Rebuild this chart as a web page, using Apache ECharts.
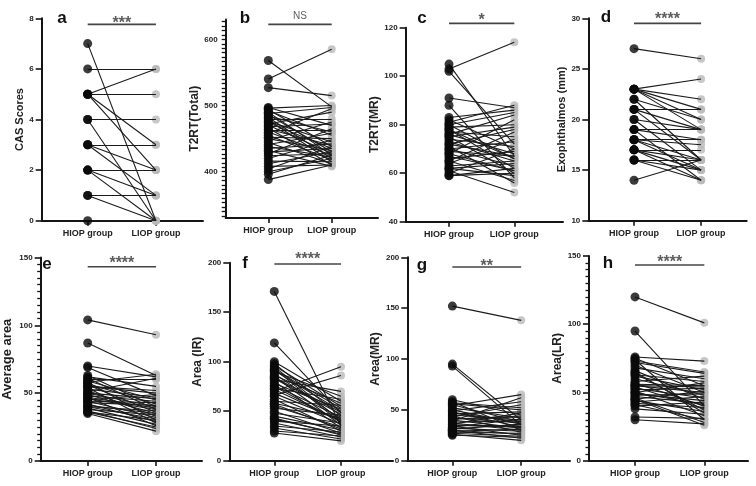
<!DOCTYPE html>
<html><head><meta charset="utf-8">
<script src="https://cdn.jsdelivr.net/npm/echarts@6/dist/echarts.min.js"></script>
<style>html,body{margin:0;padding:0;background:#fff}#c{width:756px;height:486px}</style>
</head><body><div id="c"></div>
<script>
// ---------- DATA ----------
const groups = ['HIOP group', 'LIOP group'];

const aH = [7,6,5,5,5,5,4,4,3,3,3,2,2,2,1,1,0];
const aL = [0,6,6,5,3,2,4,0,3,2,1,2,1,0,1,0,0];

const bH = [568,540,527,497,496,494,492,490,488,486,484,482,480,478,476,474,472,470,468,466,464,462,460,458,455,452,450,447,444,441,438,435,432,430,427,424,420,416,412,408,404,400,396,388];
const bL = [498,585,515,470,500,438,455,425,497,430,460,420,480,415,445,435,490,428,472,410,440,462,425,495,418,450,432,475,412,458,422,442,408,435,465,427,448,415,430,410,438,420,425,410];

const cH = [105,103,102,91,88,83,82,81,80,79,78,77,76,76,75,74,73,72,71,70,70,69,68,67,66,65,64,63,62,61,60,59,59,80,78,75,72,68,65,62];
const cL = [67,114,72,87,58,86,70,88,66,80,62,75,68,84,60,71,65,78,56,73,63,67,82,61,69,57,74,65,64,52,70,62,60,85,66,79,67,61,77,59];

const dH = [27,23,23,23,23,23,22,22,21,21,21,20,20,19,19,19,18,18,18,18,17,17,17,17,16,16,16,14];
const dL = [26,24,22,21,20,19,20,16,21,19,16,19,15,19,18,14,18,17.5,16,15,17,16,15,14,16,15,14,16];

const eH = [104,87,70,69,63,62,61,60,59,58,57,56,55,54,53,52,51,50,49,48,47,46,45,44,43,42,41,40,39,38,37,36,35,58,55,50,47,44,40,36];
const eL = [93,63,62,48,40,55,38,60,45,30,42,36,50,28,47,33,61,40,35,44,26,38,49,32,41,29,35,37,27,34,24,30,22,64,52,46,39,43,31,25];

const fH = [171,119,100,98,96,95,93,91,90,88,86,85,83,82,80,78,76,75,73,70,68,66,65,62,60,58,55,53,50,48,45,43,40,38,35,33,30,28,92,84,72,57,42];
const fL = [35,48,60,45,55,40,38,50,65,42,58,36,47,70,33,52,44,39,62,95,41,86,37,30,56,43,34,46,28,38,31,26,35,24,29,22,25,20,53,49,40,32,27];

const gH = [152,95,93,60,58,57,55,54,52,50,49,48,46,45,44,43,42,41,40,39,38,37,36,35,34,33,32,31,30,29,28,27,26,25,56,47,41,35,30];
const gL = [138,40,35,45,30,52,38,65,42,36,58,33,48,40,28,55,37,44,32,62,39,30,47,34,25,41,29,36,22,31,27,24,20,23,50,38,43,33,26];

const hH = [120,95,76,75,74,73,70,68,66,65,63,62,60,58,57,56,55,54,53,52,51,50,49,48,47,46,45,44,43,42,41,40,38,32,30,72,64,55,50,45];
const hL = [101,40,73,55,30,65,50,60,45,35,58,52,48,62,40,55,50,38,46,53,33,57,44,49,42,28,51,36,47,39,30,43,34,31,27,64,37,54,41,26];

const panelLetters = ['a','b','c','d','e','f','g','h'];
const panelNames = ['CAS Scores','T2RT(Total)','T2RT(MR)','Exophthalmos (mm)','Average area','Area (IR)','Area(MR)','Area(LR)'];
const sigText = ['***','NS','*','****','****','****','**','****'];
const sigLevel = [7.76, 622.7, 121.8, 29.5, 143.2, 198.7, 190.5, 143.4];
const yTickLabels = [
  [0,2,4,6,8],
  [400,500,600],
  [40,60,80,100,120],
  [10,15,20,25,30],
  [0,50,100,150],
  [0,50,100,150,200],
  [0,50,100,150,200],
  [0,50,100,150]
];
const yRanges = [[0,8],[330,630],[40,120],[10,30],[0,150],[0,200],[0,200],[0,150]];

// ---------- LAYOUT / STYLE ----------
const layout = [
  {left:41.7, top:18.3, w:161.3, h:202.4, xMin:0.326, xMax:2.69, gap:15, nsz:11, letter:[62,18], dy:-1, ssz:16, minor:null},
  {left:225.7, top:19.5, w:152.3, h:198.5, xMin:0.328, xMax:2.73, gap:23, nsz:12, letter:[245,18], dy:-7.6, ssz:10, minor:'b'},
  {left:405.7, top:27.7, w:157.3, h:194, xMin:0.337, xMax:2.745, gap:24, nsz:12, letter:[422,18], dy:-3, ssz:16, minor:null},
  {left:588.3, top:18.3, w:158.4, h:202.4, xMin:0.318, xMax:2.68, gap:18, nsz:11, letter:[606,17], dy:-3.4, ssz:16, minor:null},
  {left:40.7, top:257.5, w:161.3, h:203.5, xMin:0.312, xMax:2.673, gap:27, nsz:13, letter:[47,264], dy:-3.4, ssz:16, minor:'e'},
  {left:229.3, top:262.7, w:163.7, h:198, xMin:0.325, xMax:2.78, gap:24, nsz:12, letter:[245,263], dy:-4, ssz:16, minor:null},
  {left:407.3, top:257.3, w:162.7, h:203.4, xMin:0.345, xMax:2.71, gap:25, nsz:12, letter:[422,265], dy:0, ssz:16, minor:null},
  {left:589, top:256, w:159, h:204.7, xMin:0.336, xMax:2.63, gap:24, nsz:12, letter:[608,263], dy:-2.6, ssz:16, minor:'e'}
];
const highs = [aH,bH,cH,dH,eH,fH,gH,hH];
const lows  = [aL,bL,cL,dL,eL,fL,gL,hL];
const FONT = "'Liberation Sans', Arial, sans-serif";
const INK = '#151515';

function allTicksB(range){
  const out = [];
  for (let k = -12; k <= 40; k++) { const v = 400 + k*100/15; if (v >= range[0] - 1e-6 && v <= range[1] + 1e-6) out.push(v); }
  return out;
}

const grid = [], xAxis = [], yAxis = [], series = [], graphic = [];
layout.forEach((L, i) => {
  const yr = yRanges[i];
  grid.push({left:L.left, top:L.top, width:L.w, height:L.h, outerBoundsMode:'none', containLabel:false});
  xAxis.push({
    type:'value', gridIndex:i, min:L.xMin, max:L.xMax, splitLine:{show:false},
    axisLine:{show:true, onZero:false, lineStyle:{color:INK, width:2}},
    axisTick:{show:true, customValues:[1,2], length:5, lineStyle:{color:INK, width:1.6}},
    axisLabel:{show:true, customValues:[1,2], margin:8, fontSize:9, fontWeight:'bold', color:'#222', fontFamily:FONT,
      formatter:(v)=> (Math.abs(v-1)<1e-6 ? groups[0] : groups[1])}
  });
  const ya = {
    type:'value', gridIndex:i, min:yr[0], max:yr[1], position:'left', splitLine:{show:false},
    name:panelNames[i], nameLocation:'middle', nameGap:L.gap,
    nameTextStyle:{fontSize:L.nsz, fontWeight:'bold', color:'#222', fontFamily:FONT},
    axisLine:{show:true, onZero:false, lineStyle:{color:INK, width:2}},
    axisTick:{show:true, length:6, lineStyle:{color:INK, width:1.6}},
    axisLabel:{show:true, margin:8, fontSize:8, fontWeight:'bold', color:'#222', fontFamily:FONT}
  };
  if (L.minor === 'e') {
    ya.interval = yTickLabels[i][1] - yTickLabels[i][0];
    ya.minorTick = {show:true, splitNumber:10, length:3.5, lineStyle:{color:INK, width:1.3}};
  } else if (L.minor === 'b') {
    ya.axisTick.customValues = allTicksB(yr);
    ya.axisTick.length = 4;
    ya.axisTick.lineStyle.width = 1.3;
    ya.axisLabel.customValues = yTickLabels[i];
  } else {
    ya.axisTick.customValues = yTickLabels[i];
    ya.axisLabel.customValues = yTickLabels[i];
  }
  yAxis.push(ya);
  const H = highs[i], Lw = lows[i];
  series.push({
    type:'scatter', xAxisIndex:i, yAxisIndex:i, clip:false, z:2, silent:true,
    symbolSize:8, itemStyle:{color:'#b9b9b9'},
    data: Lw.map(v => [2, v])
  });
  series.push({
    type:'lines', coordinateSystem:'cartesian2d', xAxisIndex:i, yAxisIndex:i, z:3, silent:true,
    lineStyle:{color:'#1b1b1b', width:1.1, opacity:1},
    data: H.map((h,k) => ({coords:[[1,h],[2,Lw[k]]]}))
  });
  series.push({
    type:'scatter', xAxisIndex:i, yAxisIndex:i, clip:false, z:4, silent:true,
    symbolSize:9, itemStyle:{color:'#0a0a0a'},
    data: H.map(v => [1, v])
  });
  series.push({
    type:'line', xAxisIndex:i, yAxisIndex:i, clip:false, z:5, silent:true, symbol:'none',
    lineStyle:{color:'#444', width:1.6},
    data:[[1, sigLevel[i]], [2, sigLevel[i]]]
  });
  series.push({
    type:'scatter', xAxisIndex:i, yAxisIndex:i, clip:false, z:6, silent:true, symbolSize:0,
    itemStyle:{color:'rgba(0,0,0,0)'},
    label:{show:true, position:'inside', offset:[0, L.dy], formatter: sigText[i],
      fontSize:L.ssz, fontWeight: sigText[i]==='NS' ? 'normal' : 'bold', color:'#333', fontFamily:FONT},
    data:[[1.5, sigLevel[i]]]
  });
  graphic.push({
    type:'text', x:L.letter[0], y:L.letter[1], silent:true,
    style:{text:panelLetters[i], font:"bold 17px " + FONT, fill:'#111',
      textAlign:'center', textVerticalAlign:'middle', align:'center', verticalAlign:'middle'}
  });
});

const chart = echarts.init(document.getElementById('c'), null, {renderer:'canvas'});
chart.setOption({animation:false, backgroundColor:'#fff', grid, xAxis, yAxis, series, graphic});
</script>
</body></html>
